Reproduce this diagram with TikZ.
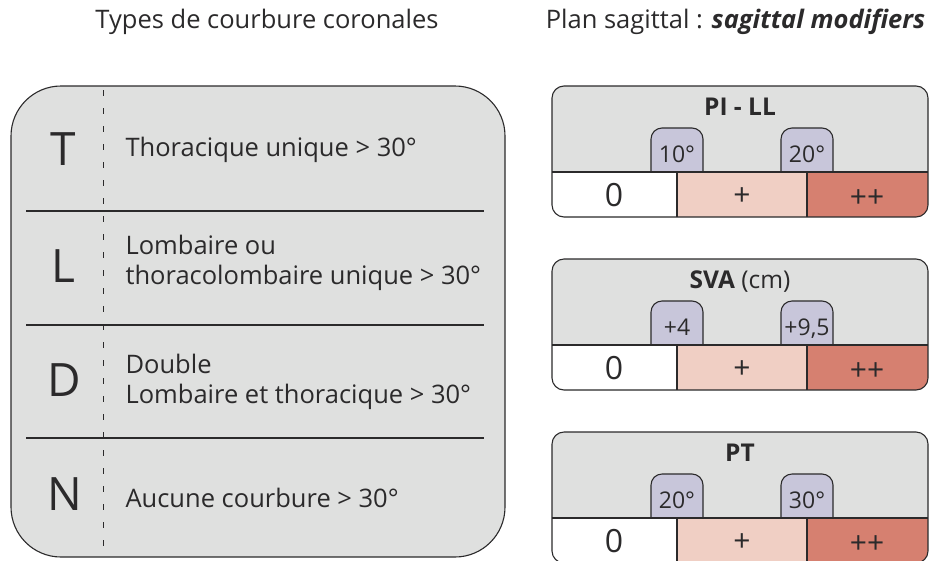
\documentclass[tikz,border=0pt]{standalone}
\usepackage{fontspec}
\setmainfont{Open Sans}
\definecolor{inkgrey}{HTML}{2B2A2B}
\definecolor{boxgrey}{HTML}{DFE0DF}
\definecolor{tabviolet}{HTML}{C8C6DA}
\definecolor{lowpink}{HTML}{F0CFC4}
\definecolor{highred}{HTML}{D68070}

\begin{document}
\begin{tikzpicture}[
    x=1pt, y=-1pt,
    font=\fontsize{25.5}{30}\selectfont, text=inkgrey,
    line width=1.1pt, draw=inkgrey,
    heading/.style={font=\fontsize{25.5}{30}\selectfont},
    curveletter/.style={font=\fontsize{46}{46}\selectfont},
    curvetext/.style={anchor=west, align=left, inner sep=0pt},
    modtitle/.style={anchor=base, font=\fontsize{24.5}{28}\selectfont},
    tabvalue/.style={anchor=base, font=\fontsize{23}{26}\selectfont},
    gradevalue/.style={anchor=base, font=\fontsize{30}{32}\selectfont},
]
    \useasboundingbox (0,0) rectangle (933,560);
    \clip (0,0) rectangle (933,560);
    %Headings
    \node[heading] (coronal) at (267,22) {Types de courbure coronales};
    \node[heading, anchor=east] (sagittal) at (929,22) {Plan sagittal : \textbf{\textit{sagittal modifiers}}};
    %Coronal types
    \filldraw[fill=boxgrey, rounded corners=50pt] (11,86) rectangle (505,557);
    \draw[line width=0.8pt, dash pattern=on 6pt off 12pt] (103,90) -- (103,557);
    \foreach \y in {211,325,438}
        \draw (26,\y) -- (484,\y);
    \node[curveletter] (typeT) at (63,149) {T};
    \node[curveletter] (typeL) at (63,266) {L};
    \node[curveletter] (typeD) at (64,380) {D};
    \node[curveletter] (typeN) at (65,494) {N};
    \node[curvetext] (textT) at (125,150) {Thoracique unique > 30°};
    \node[curvetext] (textL) at (125,263) {Lombaire ou\\thoracolombaire unique > 30°};
    \node[curvetext] (textD) at (125,382) {Double\\Lombaire et thoracique > 30°};
    \node[curvetext] (textN) at (125,498) {Aucune courbure > 30°};
    %Sagittal modifiers
    \foreach \ytop/\mname/\modlabel/\lo/\hi in {86/pill/{\textbf{PI - LL}}/10°/20°,
        259/sva/{\textbf{SVA} (cm)}/+4/{+9,5},
        432/pt/{\textbf{PT}}/20°/30°}{
        \pgfmathsetmacro\bartop{\ytop+86}
        \fill[boxgrey, rounded corners=12pt] (552,\ytop) rectangle (928,\ytop+131);
        %thresholds
        \filldraw[fill=tabviolet, rounded corners=11pt] (651,\bartop) |- (703,\ytop+42) -- (703,\bartop);
        \filldraw[fill=tabviolet, rounded corners=11pt] (781,\bartop) |- (833,\ytop+42) -- (833,\bartop);
        \begin{scope}
            \clip[rounded corners=12pt] (552,\ytop) rectangle (928,\ytop+131);
            \fill[white] (552,\bartop) rectangle (677,\ytop+131);
            \fill[lowpink] (677,\bartop) rectangle (807,\ytop+131);
            \fill[highred] (807,\bartop) rectangle (928,\ytop+131);
        \end{scope}
        \draw (552,\bartop) -- (928,\bartop);
        \draw (677,\bartop) -- (677,\ytop+131);
        \draw (807,\bartop) -- (807,\ytop+131);
        \draw[rounded corners=12pt] (552,\ytop) rectangle (928,\ytop+131);
        \node[modtitle] (\mname-title) at (740,\ytop+29) {\modlabel};
        \node[tabvalue] (\mname-lo) at (677,\bartop-10) {\lo};
        \node[tabvalue] (\mname-hi) at (807,\bartop-10) {\hi};
        \node[gradevalue, font=\fontsize{32}{34}\selectfont] (\mname-zero) at (614,\bartop+34) {0};
        \node[gradevalue] (\mname-plus) at (742,\bartop+33) {+};
        \node[gradevalue] (\mname-plusplus) at (867,\bartop+35) {++};
    }
\end{tikzpicture}
\end{document}
